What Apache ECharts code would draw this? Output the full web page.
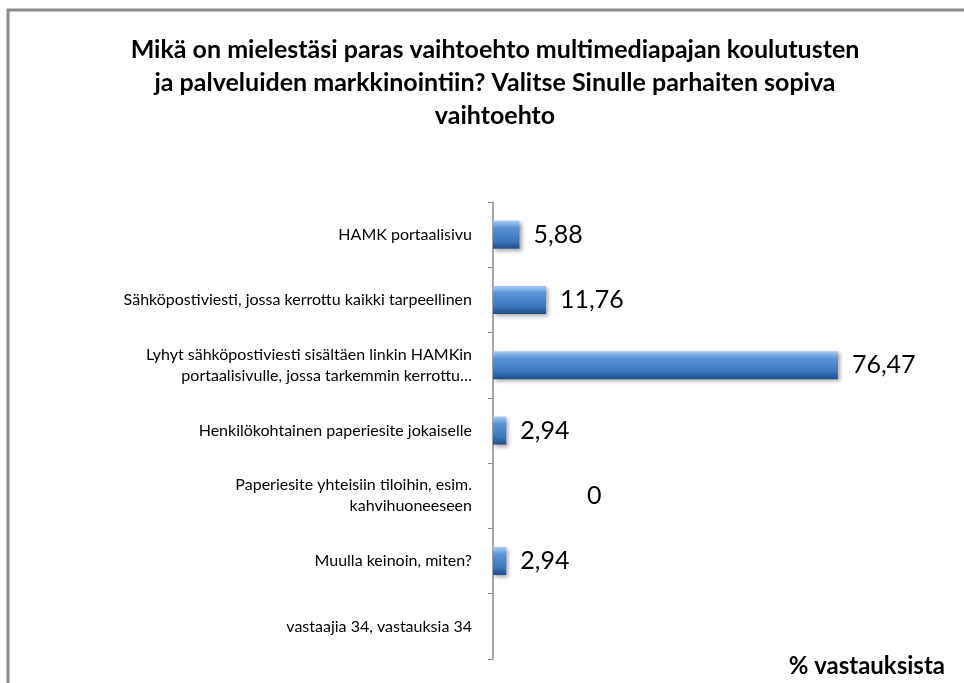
<!DOCTYPE html>
<html>
<head>
<meta charset="utf-8">
<script src="https://cdn.jsdelivr.net/npm/echarts@6/dist/echarts.min.js"></script>
<style>
  html, body { margin: 0; padding: 0; background: #fff; }
  #chart { width: 964px; height: 683px; }
</style>
</head>
<body>
<div id="chart"></div>
<script>
// data
const categories = [
    'HAMK portaalisivu',
    'Sähköpostiviesti, jossa kerrottu kaikki tarpeellinen',
    'Lyhyt sähköpostiviesti sisältäen linkin HAMKin\nportaalisivulle, jossa tarkemmin kerrottu…',
    'Henkilökohtainen paperiesite jokaiselle',
    'Paperiesite yhteisiin tiloihin, esim.\nkahvihuoneeseen',
    'Muulla keinoin, miten?',
    'vastaajia 34, vastauksia 34'
];
const values = [5.88, 11.76, 76.47, 2.94, 0, 2.94, null];
const titleText = 'Mikä on mielestäsi paras vaihtoehto multimediapajan koulutusten\nja palveluiden markkinointiin? Valitse Sinulle parhaiten sopiva\nvaihtoehto';
const axisTitle = '% vastauksista';

var chartDom = document.getElementById('chart');
var myChart = echarts.init(chartDom);
var option;

const barColor = new echarts.graphic.LinearGradient(0, 0, 0, 1, [
    { offset: 0, color: '#a9cbf2' },
    { offset: 0.25, color: '#5b95d8' },
    { offset: 0.75, color: '#3a75bd' },
    { offset: 1, color: '#1f4d87' }
]);

const barData = values.map(function (v) {
    if (v === null) return { value: v };
    if (v === 0) return { value: v, label: { offset: [80, 0] } };
    return v;
});

option = {
    animation: false,
    graphic: [
        {
            type: 'rect',
            shape: { x: 8, y: 10, width: 970, height: 700 },
            style: { fill: 'none', stroke: '#8a8a8a', lineWidth: 3 }
        }
    ],
    title: [
        {
            text: titleText,
            left: 490,
            textAlign: 'center',
            top: 28,
            textStyle: {
                fontFamily: 'Lato',
                fontWeight: 'bold',
                fontSize: 25,
                lineHeight: 33,
                color: '#000'
            }
        },
        {
            text: axisTitle,
            right: 14,
            top: 649,
            textStyle: {
                fontFamily: 'Lato',
                fontWeight: 'bold',
                fontSize: 24,
                color: '#000'
            }
        }
    ],
    grid: {
        left: 493,
        right: 20,
        top: 202,
        bottom: 24,
        containLabel: false
    },
    xAxis: {
        type: 'value',
        min: 0,
        max: 100,
        show: false
    },
    yAxis: {
        type: 'category',
        inverse: true,
        data: categories,
        axisLine: { show: true, lineStyle: { color: '#8a8a8a', width: 1.5 } },
        axisTick: { show: true, length: 5, lineStyle: { color: '#8a8a8a' } },
        axisLabel: {
            margin: 21,
            fontFamily: 'Lato',
            fontSize: 16,
            lineHeight: 21,
            color: '#000',
            align: 'right'
        },
        splitLine: { show: false }
    },
    series: [
        {
            type: 'bar',
            data: barData,
            barWidth: 28,
            itemStyle: {
                color: barColor,
                shadowColor: 'rgba(0,0,0,0.35)',
                shadowBlur: 4,
                shadowOffsetX: 2,
                shadowOffsetY: 2
            },
            label: {
                show: true,
                position: 'right',
                distance: 14,
                fontFamily: 'Lato',
                fontSize: 25,
                color: '#000',
                formatter: function (p) {
                    return p.value === null || p.value === undefined ? '' : String(p.value).replace('.', ',');
                }
            }
        }
    ]
};

option && myChart.setOption(option);
</script>
</body>
</html>
